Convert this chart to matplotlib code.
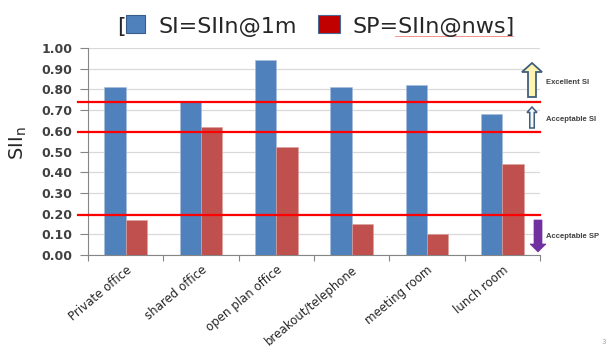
import numpy as np
import matplotlib.pyplot as plt
from matplotlib.patches import Rectangle, FancyArrow

# veri
rooms = ["Private office", "shared office", "open plan office",
         "breakout/telephone", "meeting room", "lunch room"]
si_1m = [0.81, 0.74, 0.94, 0.81, 0.82, 0.68]
sp_nws = [0.17, 0.62, 0.52, 0.15, 0.10, 0.44]
limits = [0.74, 0.595, 0.195]

blue = "#4F81BD"
red = "#C0504D"

fig = plt.figure(figsize=(6.06, 3.52), dpi=100)
ax = fig.add_axes([88/606, 1-255/352, 452/606, 207/352])

x = np.arange(len(rooms))
w = 0.284
ax.bar(x - w/2, si_1m, w, color=blue, edgecolor="#A7BEDC", linewidth=0.4, zorder=3)
ax.bar(x + w/2, sp_nws, w, color=red, edgecolor="#DDA09E", linewidth=0.4, zorder=3)

ax.set_xlim(-0.5, len(rooms) - 0.5)
ax.set_ylim(0, 1.0)
ax.set_yticks(np.arange(0, 1.01, 0.1))
ax.set_yticklabels([f"{v:.2f}" for v in np.arange(0, 1.01, 0.1)],
                   fontsize=9, fontweight="bold", color="#404040")
ax.yaxis.grid(True, color="#D9D9D9", linewidth=0.9, zorder=0)
ax.tick_params(axis="y", length=6, pad=5, color="#868686")

ax.set_xticks(np.arange(-0.5, len(rooms)), labels=[""] * (len(rooms) + 1))
ax.tick_params(axis="x", which="major", length=4, color="#868686")
ax.set_xticks(x, minor=True)
ax.set_xticklabels(rooms, minor=True, rotation=40, ha="right",
                   rotation_mode="anchor", fontsize=8.5, color="#262626")
ax.tick_params(axis="x", which="minor", length=0, pad=6)

for s in ["top", "right"]:
    ax.spines[s].set_visible(False)
ax.spines["left"].set_color("#868686")
ax.spines["bottom"].set_color("#868686")

# kırmızı sınır çizgileri
for y in limits:
    ax.plot([-0.022, 1.0], [y, y], transform=ax.get_yaxis_transform(),
            color="#FF0000", linewidth=1.6, clip_on=False, zorder=4)

# başlık / lejant
base = 1 - 33/352
fig.text(117/606, base, "[", fontsize=16, va="baseline", color="#262626")
fig.add_artist(Rectangle((1.26, 3.19), 0.19, 0.18, transform=fig.dpi_scale_trans,
                         facecolor=blue, edgecolor="#385D8A", linewidth=0.8))
fig.text(159/606, base, "SI=SIIn@1m", fontsize=16, va="baseline", color="#262626")
fig.add_artist(Rectangle((3.18, 3.19), 0.22, 0.18, transform=fig.dpi_scale_trans,
                         facecolor="#C00000", edgecolor="#4A6A94", linewidth=0.8))
fig.text(353/606, base, "SP=SIIn@nws]", fontsize=16, va="baseline", color="#262626")
fig.add_artist(plt.Line2D([3.95, 5.13], [3.165, 3.165], transform=fig.dpi_scale_trans,
                          color="#F08080", linewidth=0.6))

# y ekseni etiketi
fig.text(18/606, 1 - 143/352, r"SII$_\mathregular{n}$", fontsize=14, rotation=90,
         ha="center", va="center", color="#262626")

# oklar
fig.add_artist(FancyArrow(5.32, (352-97)/100, 0, 0.34, width=0.08, head_width=0.2,
                          head_length=0.09, length_includes_head=True,
                          transform=fig.dpi_scale_trans, facecolor="#FFF3B0",
                          edgecolor="#3F5F7F", linewidth=1.3))
fig.add_artist(FancyArrow(5.32, (352-128)/100, 0, 0.21, width=0.045, head_width=0.1,
                          head_length=0.055, length_includes_head=True,
                          transform=fig.dpi_scale_trans, facecolor="#F4F8FB",
                          edgecolor="#3F5F7F", linewidth=1.1))
fig.add_artist(FancyArrow(5.38, (352-220)/100, 0, -0.32, width=0.08, head_width=0.16,
                          head_length=0.08, length_includes_head=True,
                          transform=fig.dpi_scale_trans, facecolor="#7030A0",
                          edgecolor="#7030A0", linewidth=0.5))

note = dict(fontsize=5.5, fontweight="bold", va="center", color="#404040",
            family="Liberation Sans")
fig.text(546/606, 1 - 82/352, "Excellent SI", **note)
fig.text(546/606, 1 - 119/352, "Acceptable SI", **note)
fig.text(546/606, 1 - 237/352, "Acceptable SP", **note)
fig.text(601/606, 1 - 342/352, "3", fontsize=5, va="center", color="#A0A0A0")

plt.savefig("out.png", dpi=100)
plt.close()
